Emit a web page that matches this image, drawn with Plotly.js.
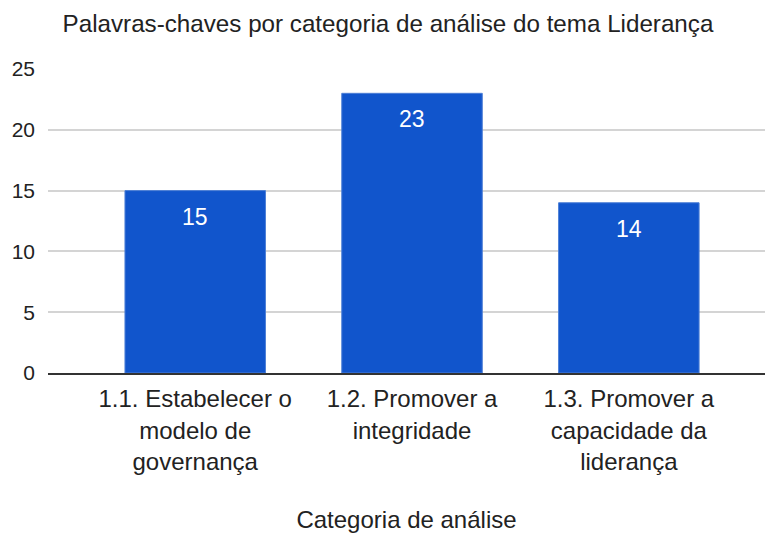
<!DOCTYPE html>
<html>
<head>
<meta charset="utf-8">
<script src="https://cdn.plot.ly/plotly-3.0.1.min.js"></script>
<style>html,body{margin:0;padding:0;background:#fff;}#chart{width:765px;height:533px;}</style>
</head>
<body>
<div id="chart"></div>
<script>
const categories = ["1.1. Estabelecer o<br>modelo de<br>governança", "1.2. Promover a<br>integridade", "1.3. Promover a<br>capacidade da<br>liderança"];
const values = [15, 23, 14];
const yTicks = [0, 5, 10, 15, 20, 25];
const chartTitle = "Palavras-chaves por categoria de análise do tema Liderança";
const xTitle = "Categoria de análise";

const FONT = "Liberation Sans, Arial, sans-serif";

const trace = {
  type: "bar",
  x: categories,
  y: values,
  width: 0.648,
  marker: {color: "#1155cc", line: {color: "#4d7fd6", width: 1}},
  hoverinfo: "none"
};

const annotations = categories.map((c, i) => ({
  x: c, y: values[i], xref: "x", yref: "y",
  text: String(values[i]), showarrow: false,
  yanchor: "top", yshift: -11,
  font: {family: FONT, size: 23, color: "#ffffff"}
}));

const layout = {
  width: 765, height: 533,
  margin: {l: 48, r: 0, t: 68.6, b: 159.7, pad: 0},
  paper_bgcolor: "#ffffff", plot_bgcolor: "#ffffff",
  showlegend: false,
  title: {
    text: chartTitle,
    font: {family: FONT, size: 24.2, color: "#222222"},
    xref: "container", x: 388/765, xanchor: "center",
    yref: "container", y: 1 - 24/533, yanchor: "middle"
  },
  xaxis: {
    type: "category",
    range: [-0.679, 2.628],
    showgrid: false,
    showline: true, linecolor: "#333333", linewidth: 1.5,
    ticks: "", ticklabelstandoff: 4,
    tickfont: {family: FONT, size: 24, color: "#222222"},
    title: {text: xTitle, font: {family: FONT, size: 24, color: "#222222"}, standoff: 42},
    fixedrange: true
  },
  yaxis: {
    range: [0, 25],
    tickvals: yTicks,
    ticktext: yTicks.map(String),
    showgrid: true, gridcolor: "#d4d4d4", gridwidth: 2,
    zeroline: false, showline: false,
    ticks: "", ticklabelstandoff: 12,
    tickfont: {family: FONT, size: 21, color: "#222222"},
    fixedrange: true
  },
  annotations: annotations
};

Plotly.newPlot("chart", [trace], layout, {displayModeBar: false, staticPlot: true});
</script>
</body>
</html>
